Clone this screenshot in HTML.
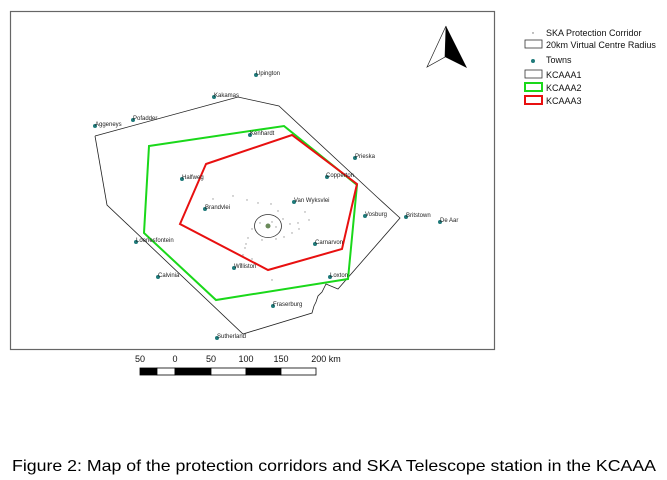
<!DOCTYPE html>
<html><head><meta charset="utf-8"><style>
html,body{margin:0;padding:0;background:#fff;}
svg{display:block;font-family:"Liberation Sans",sans-serif;}
.t{font-size:6px;fill:#222;}
.l{font-size:9px;fill:#111;}
.d{fill:#999;}
</style></head><body>
<svg width="667" height="480" viewBox="0 0 667 480" xmlns="http://www.w3.org/2000/svg">
<rect x="10.5" y="11.5" width="484" height="338" fill="#fff" stroke="#666" stroke-width="1.2"/>
<!-- KCAAA1 -->
<polyline fill="none" stroke="#222" stroke-width="0.8" points="95,136 238,97 279,106 377,197 400,218 338,289 326,284 322,292 318,296 316,302 314,306 312,313 243,334 107,205 95,136"/>
<!-- green -->
<polygon fill="none" stroke="#1ad81a" stroke-width="2" points="149,146 284,126 357,185 348,279 216,300 144,233"/>
<!-- red -->
<polygon fill="none" stroke="#e81010" stroke-width="2" points="206,164 292,135 357,184 342,249 268,270 180,224"/>
<!-- corridor dots -->
<g class="d">
<circle cx="213" cy="199" r="0.7"/><circle cx="233" cy="196" r="0.7"/><circle cx="247" cy="200" r="0.7"/><circle cx="258" cy="203" r="0.7"/><circle cx="271" cy="204" r="0.7"/><circle cx="278" cy="211" r="0.7"/><circle cx="283" cy="219" r="0.7"/><circle cx="290" cy="224" r="0.7"/><circle cx="298" cy="223" r="0.7"/><circle cx="305" cy="212" r="0.7"/><circle cx="309" cy="220" r="0.7"/><circle cx="299" cy="229" r="0.7"/><circle cx="292" cy="233" r="0.7"/><circle cx="284" cy="237" r="0.7"/><circle cx="276" cy="239" r="0.7"/><circle cx="262" cy="240" r="0.7"/><circle cx="252" cy="229" r="0.7"/><circle cx="248" cy="238" r="0.7"/><circle cx="246" cy="244" r="0.7"/><circle cx="245" cy="248" r="0.7"/><circle cx="243" cy="255" r="0.7"/><circle cx="241" cy="264" r="0.7"/><circle cx="252" cy="259" r="0.7"/><circle cx="272" cy="280" r="0.7"/><circle cx="276" cy="227" r="0.7"/><circle cx="260" cy="223" r="0.7"/><circle cx="272" cy="222" r="0.7"/>
</g>
<ellipse cx="268" cy="226" rx="13.5" ry="11.5" fill="none" stroke="#333" stroke-width="0.8"/>
<circle cx="268" cy="226" r="2.5" fill="#6a8a5a"/>
<!-- towns -->
<g fill="#1f7a7a">
<circle cx="256" cy="75" r="2"/><circle cx="214" cy="97" r="2"/><circle cx="133" cy="120" r="2"/><circle cx="95" cy="126" r="2"/><circle cx="250" cy="135" r="2"/><circle cx="355" cy="158" r="2"/><circle cx="182" cy="179" r="2"/><circle cx="327" cy="177" r="2"/><circle cx="294" cy="202" r="2"/><circle cx="205" cy="209" r="2"/><circle cx="365" cy="216" r="2"/><circle cx="406" cy="217" r="2"/><circle cx="440" cy="222" r="2"/><circle cx="315" cy="244" r="2"/><circle cx="136" cy="242" r="2"/><circle cx="234" cy="268" r="2"/><circle cx="158" cy="277" r="2"/><circle cx="330" cy="277" r="2"/><circle cx="273" cy="306" r="2"/><circle cx="217" cy="338" r="2"/>
</g>
<g class="t">
<text x="256" y="75">Upington</text><text x="214" y="97">Kakamas</text><text x="133" y="120">Pofadder</text><text x="95" y="126">Aggeneys</text><text x="250" y="135">Kenhardt</text><text x="355" y="158">Prieska</text><text x="182" y="179">Halfweg</text><text x="326" y="177">Copperton</text><text x="294" y="202">Van Wyksvlei</text><text x="205" y="209">Brandvlei</text><text x="365" y="216">Vosburg</text><text x="406" y="217">Britstown</text><text x="440" y="222">De Aar</text><text x="315" y="244">Carnarvon</text><text x="136" y="242">Loeriesfontein</text><text x="234" y="268">Williston</text><text x="158" y="277">Calvinia</text><text x="330" y="277">Loxton</text><text x="273" y="306">Fraserburg</text><text x="217" y="338">Sutherland</text>
</g>
<!-- north arrow -->
<polygon points="446,26 427,67 445,57" fill="#fff" stroke="#222" stroke-width="0.7"/>
<polygon points="446,26 467,68 445,57" fill="#000"/>
<!-- legend -->
<circle cx="533" cy="33" r="0.7" fill="#666"/>
<text class="l" x="546" y="36">SKA Protection Corridor</text>
<rect x="525" y="40" width="17" height="8" fill="#fff" stroke="#333" stroke-width="0.8"/>
<text class="l" x="546" y="48">20km Virtual Centre Radius</text>
<circle cx="533" cy="61" r="2" fill="#1f7a7a"/>
<text class="l" x="546" y="63">Towns</text>
<rect x="525" y="70" width="17" height="8" fill="#fff" stroke="#333" stroke-width="0.8"/>
<text class="l" x="546" y="78">KCAAA1</text>
<rect x="525" y="83" width="17" height="8" fill="#fff" stroke="#1ad81a" stroke-width="2"/>
<text class="l" x="546" y="91">KCAAA2</text>
<rect x="525" y="96" width="17" height="8" fill="#fff" stroke="#e81010" stroke-width="2"/>
<text class="l" x="546" y="104">KCAAA3</text>
<!-- scale bar -->
<g font-size="9" fill="#111" text-anchor="middle">
<text x="140" y="362">50</text><text x="175" y="362">0</text><text x="211" y="362">50</text><text x="246" y="362">100</text><text x="281" y="362">150</text><text x="326" y="362">200 km</text>
</g>
<g stroke="#000" stroke-width="0.8">
<rect x="140" y="368" width="17" height="7" fill="#000"/>
<rect x="157" y="368" width="18" height="7" fill="#fff"/>
<rect x="175" y="368" width="36" height="7" fill="#000"/>
<rect x="211" y="368" width="35" height="7" fill="#fff"/>
<rect x="246" y="368" width="35" height="7" fill="#000"/>
<rect x="281" y="368" width="35" height="7" fill="#fff"/>
</g>
<text x="12" y="471" font-size="16" fill="#000" textLength="644" lengthAdjust="spacingAndGlyphs">Figure 2: Map of the protection corridors and SKA Telescope station in the KCAAA</text>
</svg>
</body></html>
